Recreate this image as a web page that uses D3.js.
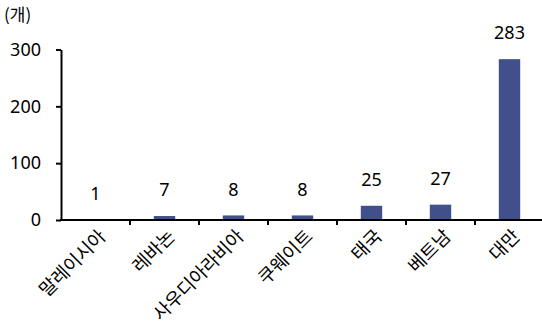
<!DOCTYPE html>
<html>
<head>
<meta charset="utf-8">
<script src="https://cdn.jsdelivr.net/npm/d3@7"></script>
<style>
  body { margin: 0; background: #fff; }
  svg { display: block; font-family: "Noto Sans CJK KR", "Noto Sans", sans-serif; }
</style>
</head>
<body>
<svg id="chart" width="542" height="328"></svg>
<script>
const countries = ['말레이시아', '레바논', '사우디아라비아', '쿠웨이트', '태국', '베트남', '대만'];
const counts = [1, 7, 8, 8, 25, 27, 283];
const yTicks = [0, 100, 200, 300];
const unitLabel = '(개)';

const svg = d3.select('#chart');
const data = countries.map((c, i) => ({ name: c, value: counts[i] }));

const x = d3.scaleBand().domain(countries).range([61, 544]).padding(0);
const y = d3.scaleLinear().domain([0, 300]).range([220, 49.5]);
const barW = x.bandwidth() * 0.31;

// unit
svg.append('text')
  .attr('x', 4).attr('y', 21)
  .style('font-size', '17px')
  .text(unitLabel);

// y axis
const yAxis = svg.append('g')
  .attr('transform', 'translate(61,0)')
  .call(d3.axisLeft(y).tickValues(yTicks).tickSize(5).tickSizeOuter(0).tickPadding(15));
yAxis.select('.domain').attr('stroke', '#000').attr('stroke-width', 2);
yAxis.selectAll('.tick line').attr('stroke', '#000').attr('stroke-width', 2);
yAxis.selectAll('.tick text')
  .style('font-size', '18px')
  .style('font-family', '"Noto Sans", sans-serif')
  .attr('fill', '#000');

// bars
svg.selectAll('.bar')
  .data(data)
  .join('rect')
  .attr('class', 'bar')
  .attr('x', d => x(d.name) + (x.bandwidth() - barW) / 2)
  .attr('width', barW)
  .attr('y', d => y(d.value))
  .attr('height', d => y(0) - y(d.value))
  .attr('fill', '#41508A');

// value labels
svg.selectAll('.val')
  .data(data)
  .join('text')
  .attr('class', 'val')
  .attr('x', d => x(d.name) + x.bandwidth() / 2)
  .attr('y', d => y(d.value) - 26)
  .attr('dy', '0.35em')
  .attr('text-anchor', 'middle')
  .style('font-size', '18px')
  .style('font-family', '"Noto Sans", sans-serif')
  .text(d => d.value);

// x axis line and boundary ticks
svg.append('line')
  .attr('x1', 60).attr('x2', 542)
  .attr('y1', y(0)).attr('y2', y(0))
  .attr('stroke', '#000').attr('stroke-width', 2);
svg.selectAll('.xtick')
  .data(countries.slice(1))
  .join('line')
  .attr('class', 'xtick')
  .attr('x1', d => x(d)).attr('x2', d => x(d))
  .attr('y1', y(0)).attr('y2', y(0) + 5)
  .attr('stroke', '#000').attr('stroke-width', 2);

// category labels
svg.selectAll('.cat')
  .data(countries)
  .join('text')
  .attr('class', 'cat')
  .attr('text-anchor', 'end')
  .attr('transform', d => `translate(${x(d) + x.bandwidth() / 2 + 7},${y(0) + 13}) rotate(-45)`)
  .attr('dy', '0.35em')
  .style('font-size', '18.5px')
  .text(d => d);
</script>
</body>
</html>
